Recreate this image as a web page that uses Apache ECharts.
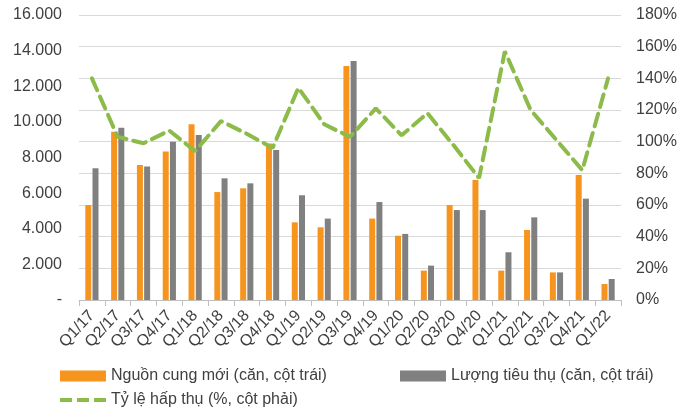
<!DOCTYPE html>
<html>
<head>
<meta charset="utf-8">
<script src="https://cdn.jsdelivr.net/npm/echarts@6/dist/echarts.min.js"></script>
<style>
  html, body { margin: 0; padding: 0; background: #ffffff; }
  #chart { width: 691px; height: 409px; }
</style>
</head>
<body>
<div id="chart"></div>
<script>
// Quarterly categories
const quarters = ['Q1/17','Q2/17','Q3/17','Q4/17','Q1/18','Q2/18','Q3/18','Q4/18',
  'Q1/19','Q2/19','Q3/19','Q4/19','Q1/20','Q2/20','Q3/20','Q4/20',
  'Q1/21','Q2/21','Q3/21','Q4/21','Q1/22'];

// New supply (units, left axis)
const newSupply = [5330, 9450, 7580, 8330, 9860, 6060, 6270, 8790,
  4360, 4080, 13130, 4570, 3610, 1650, 5330, 6740,
  1650, 3930, 1550, 7020, 900];

// Units sold (units, left axis)
const unitsSold = [7390, 9670, 7490, 8890, 9260, 6830, 6550, 8420,
  5880, 4570, 13420, 5500, 3710, 1930, 5050, 5050,
  2680, 4640, 1550, 5690, 1180];

// Absorption rate (%, right axis)
const absorption = [140, 103, 99, 107, 94, 113, 105, 96,
  134, 111, 103, 121, 104, 118, 98, 77,
  157, 120, 101, 82, 140];

// Left axis tick labels (thousands separated by '.')
const leftTicks = { 0: '-', 2000: '2.000', 4000: '4.000', 6000: '6.000', 8000: '8.000',
  10000: '10.000', 12000: '12.000', 14000: '14.000', 16000: '16.000' };

const FONT = 'Liberation Sans, Arial, sans-serif';
const TEXT = '#404040';
const GREEN = '#8cbb4a';

// Dashed legend marker for the absorption line
const dashIcon = 'path://M0,0h12v4h-12z M17,0h12v4h-12z M34,0h12v4h-12z';

const chart = echarts.init(document.getElementById('chart'), null, { renderer: 'canvas' });

const legendText = { fontFamily: FONT, fontSize: 16, color: TEXT };

chart.setOption({
  animation: false,
  backgroundColor: '#ffffff',
  grid: { left: 79, right: 70, top: 15, bottom: 109 },
  legend: [
    {
      data: ['Nguồn cung mới (căn, cột trái)'],
      left: 55, top: 363, itemWidth: 46, itemHeight: 11, itemGap: 8,
      icon: 'rect', textStyle: legendText, selectedMode: false
    },
    {
      data: ['Lượng tiêu thụ (căn, cột trái)'],
      left: 395, top: 363, itemWidth: 46, itemHeight: 11,
      icon: 'rect', textStyle: legendText, selectedMode: false
    },
    {
      data: [{ name: 'Tỷ lệ hấp thụ (%, cột phải)', icon: dashIcon }],
      left: 55, top: 387, itemWidth: 46, itemHeight: 4,
      textStyle: legendText, selectedMode: false
    }
  ],
  xAxis: {
    type: 'category',
    data: quarters,
    boundaryGap: true,
    axisLine: { lineStyle: { color: '#bfbfbf', width: 1 } },
    axisTick: { show: true, alignWithLabel: false, length: 6, lineStyle: { color: '#bfbfbf' } },
    axisLabel: {
      rotate: 47, interval: 0, margin: 13,
      fontFamily: FONT, fontSize: 16, color: TEXT
    }
  },
  yAxis: [
    {
      type: 'value', min: 0, max: 16000, interval: 2000, position: 'left',
      splitLine: { show: false },
      axisLine: { show: false }, axisTick: { show: false },
      axisLabel: {
        margin: 17, fontFamily: FONT, fontSize: 16, color: TEXT,
        formatter: v => leftTicks[v] !== undefined ? leftTicks[v] : ''
      }
    },
    {
      type: 'value', min: 0, max: 180, interval: 20, position: 'right',
      splitLine: { show: true, lineStyle: { color: '#d9d9d9', width: 1 } },
      axisLine: { show: false }, axisTick: { show: false },
      axisLabel: {
        margin: 15, fontFamily: FONT, fontSize: 16, color: TEXT,
        formatter: '{value}%'
      }
    }
  ],
  series: [
    {
      name: 'Nguồn cung mới (căn, cột trái)',
      type: 'bar', yAxisIndex: 0, data: newSupply,
      barWidth: 6, barGap: '20%',
      itemStyle: { color: '#f7941d' }
    },
    {
      name: 'Lượng tiêu thụ (căn, cột trái)',
      type: 'bar', yAxisIndex: 0, data: unitsSold,
      barWidth: 6, barGap: '20%',
      itemStyle: { color: '#808080' }
    },
    {
      name: 'Tỷ lệ hấp thụ (%, cột phải)',
      type: 'line', yAxisIndex: 1, data: absorption,
      symbol: 'none', z: 5,
      lineStyle: { color: GREEN, width: 4, type: [13, 7], cap: 'round' },
      itemStyle: { color: GREEN }
    }
  ]
});
</script>
</body>
</html>
